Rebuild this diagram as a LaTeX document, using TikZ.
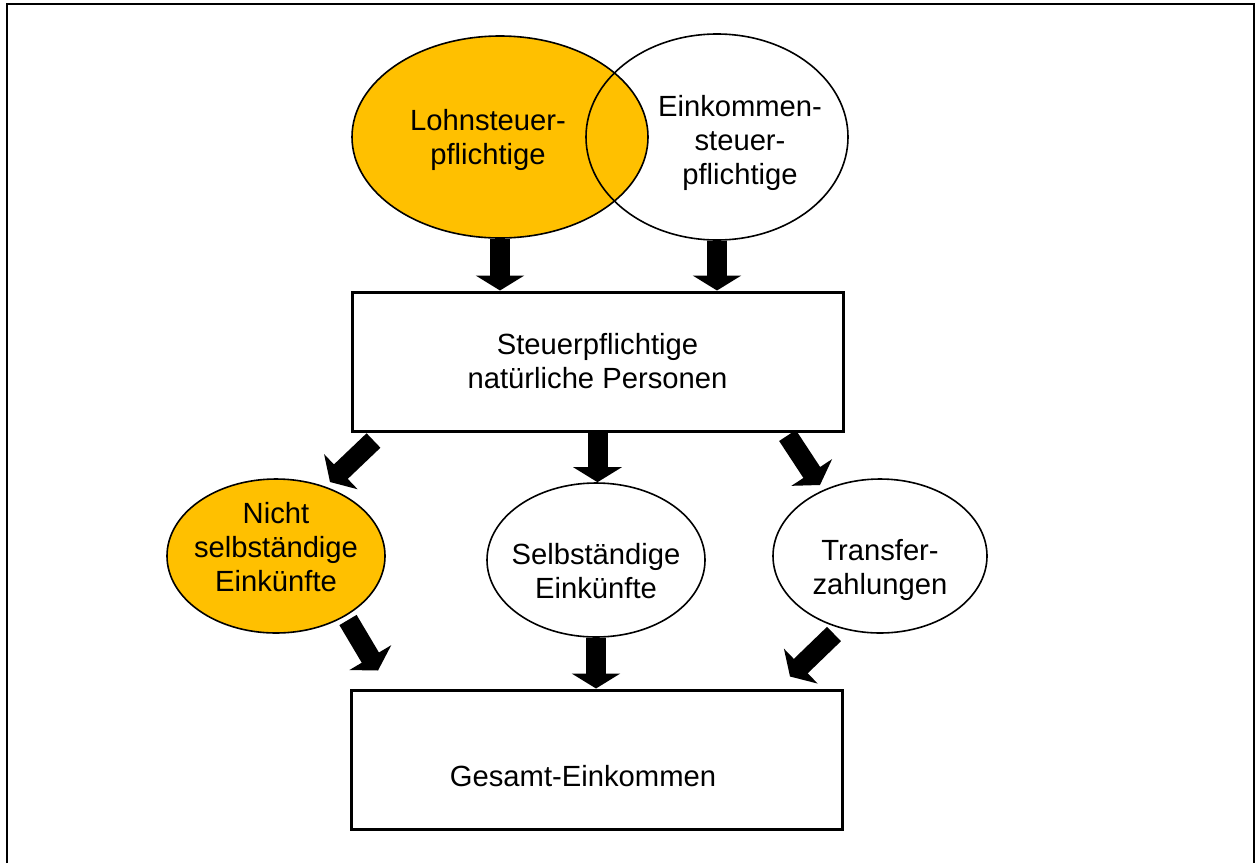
\documentclass[tikz,border=0pt]{standalone}
\usepackage{fontspec}
\setmainfont{Liberation Sans}
\usetikzlibrary{shapes,arrows.meta,positioning,calc}
\definecolor{gold}{HTML}{FFC000}

\begin{document}
\begin{tikzpicture}[x=0.5pt, y=-0.5pt,
    txt/.style={align=center, font=\fontsize{14.6}{17}\selectfont},
    venn/.style={ellipse, draw, line width=0.8pt, inner sep=0pt},
    bubble/.style={venn, minimum width=109pt, minimum height=77pt},
    box/.style={rectangle, draw, line width=1.5pt, minimum width=245.5pt, minimum height=69.5pt, txt},
    fat/.style={line width=10pt, -{Triangle[width=24pt,length=7.5pt]}}]
    \useasboundingbox (0,0) rectangle (1258,863);
    \draw[line width=1.1pt] (7,863) -- (7,4) -- (1254,4) -- (1254,863); % frame

    % Lohnsteuer / Einkommensteuer
    \node[venn, fill=gold, minimum width=148pt, minimum height=101pt,
          label={[txt, xshift=-6pt, yshift=-1.5pt]center:Lohnsteuer-\\pflichtige}] (lohn) at (500,137) {};
    \node[venn, minimum width=131pt, minimum height=103pt,
          label={[txt, xshift=11.5pt, yshift=-3pt]center:Einkommen-\\steuer-\\pflichtige}] (eink) at (717,137) {};

    \node[box] (pers) at (597.5,361.5) {Steuerpflichtige\\natürliche Personen};

    % Einkuenfte
    \node[bubble, fill=gold, label={[txt, yshift=4.5pt]center:Nicht\\selbständige\\Einkünfte}] (nselb) at (276,556) {};
    \node[bubble, label={[txt, yshift=-5.5pt]center:Selbständige\\Einkünfte}] (selb) at (596,560) {};
    \node[bubble, minimum width=107pt, label={[txt, yshift=-7pt]center:Transfer-\\zahlungen}] (trans) at (880,556) {};

    \node[box, label={[txt, xshift=-7pt, yshift=-8.5pt]center:Gesamt-Einkommen}] (ges) at (597,759.5) {};

    \draw[fat] (lohn.south) -- (lohn.south |- pers.north);
    \draw[fat] (eink.south) -- (eink.south |- pers.north);
    \draw[fat] ($(pers.south west)+(23,8)$) -- ($(nselb.center)+(54,-74)$);
    \draw[fat] (pers.south) -- (pers.south |- selb.north);
    \draw[fat] ($(pers.south east)+(-57,3)$) -- ($(trans.center)+(-60,-71)$);
    \draw[fat] ($(nselb.center)+(72,64)$) -- ($(ges.north west)+(28,-18)$);
    \draw[fat] (selb.south) -- (selb.south |- ges.north);
    \draw[fat] ($(trans.center)+(-46,78)$) -- ($(ges.north east)+(-54,-12)$);
\end{tikzpicture}
\end{document}
